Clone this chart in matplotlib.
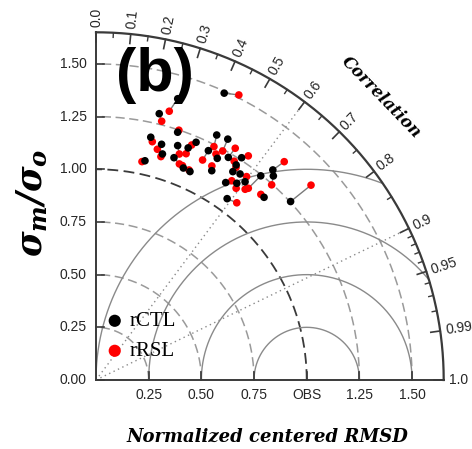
import numpy as np
import matplotlib
matplotlib.use('Agg')
import matplotlib.pyplot as plt

plt.rcParams['font.family'] = 'Liberation Sans'
plt.rcParams['mathtext.fontset'] = 'custom'
plt.rcParams['mathtext.rm'] = 'DejaVu Serif:bold:italic'
plt.rcParams['mathtext.it'] = 'DejaVu Serif:bold:italic'

RMAX = 1.65

# normalized standard deviation and correlation, one entry per model
ctl_std = [1.491, 1.390, 1.299, 1.238, 1.181, 1.161, 1.118, 1.066, 1.178, 1.118, 1.224,
           1.088, 1.185, 1.296, 1.303, 1.212, 1.199, 1.135, 1.229, 1.261, 1.218, 1.183,
           1.121, 1.148, 1.177, 1.193, 1.245, 1.303, 1.283, 1.253, 1.062, 1.178, 1.085]
ctl_cor = [0.408, 0.279, 0.231, 0.313, 0.220, 0.268, 0.282, 0.218, 0.329, 0.331, 0.388,
           0.381, 0.369, 0.442, 0.480, 0.440, 0.480, 0.484, 0.511, 0.548, 0.546, 0.549,
           0.549, 0.582, 0.601, 0.573, 0.628, 0.644, 0.656, 0.737, 0.586, 0.677, 0.411]
rsl_std = [1.513, 1.322, 1.267, 1.249, 1.162, 1.133, 1.104, 1.059, 1.143, 1.099, 1.204,
           1.090, 1.156, 1.241, 1.242, 1.160, 1.214, 1.155, 1.283, 1.286, 1.228, 1.208,
           1.144, 1.127, 1.149, 1.201, 1.162, 1.368, 1.246, 1.377, 1.074, 1.178, 1.097]
rsl_cor = [0.448, 0.263, 0.246, 0.315, 0.230, 0.257, 0.279, 0.206, 0.346, 0.360, 0.377,
           0.405, 0.370, 0.451, 0.484, 0.436, 0.469, 0.476, 0.515, 0.562, 0.534, 0.550,
           0.563, 0.590, 0.616, 0.595, 0.622, 0.653, 0.669, 0.741, 0.622, 0.664, 0.374]

std_ticks = [0.25, 0.50, 0.75, 1.00, 1.25, 1.50]
x_labels = ['0.25', '0.50', '0.75', 'OBS', '1.25', '1.50']
y_ticks = [0.0, 0.25, 0.50, 0.75, 1.00, 1.25, 1.50]
y_labels = ['0.00', '0.25', '0.50', '0.75', '1.00', '1.25', '1.50']
cor_major = [0.0, 0.1, 0.2, 0.3, 0.4, 0.5, 0.6, 0.7, 0.8, 0.9, 0.95, 0.99, 1.0]
cor_labels = ['0.0', '0.1', '0.2', '0.3', '0.4', '0.5', '0.6', '0.7', '0.8', '0.9',
              '0.95', '0.99', '1.0']
cor_minor = [0.05, 0.15, 0.25, 0.35, 0.45, 0.55, 0.65, 0.75, 0.85,
             0.91, 0.92, 0.93, 0.94, 0.96, 0.97, 0.98]
rms_levels = [0.25, 0.50, 0.75, 1.00]
cor_lines = [0.6, 0.9]


def to_xy(std, cor):
    th = np.arccos(np.asarray(cor))
    std = np.asarray(std)
    return std * np.cos(th), std * np.sin(th)


fig = plt.figure(figsize=(4.72, 4.49), dpi=100)
ax = fig.add_axes([96 / 472, 69 / 449, 347.7 / 472, 347.7 / 449])
ax.set_xlim(0, RMAX)
ax.set_ylim(0, RMAX)
ax.axis('off')

axis_col = '#3a3a3a'
grid_col = '#8a8a8a'
txt_col = '#262626'
theta = np.linspace(0, np.pi / 2, 300)

# std dev arcs around the origin
for s in std_ticks:
    if s == 1.0:
        ax.plot(s * np.cos(theta), s * np.sin(theta), color='#3a3a3a', lw=1.3,
                ls=(0, (6, 3)), zorder=1)
    else:
        ax.plot(s * np.cos(theta), s * np.sin(theta), color='#9a9a9a', lw=1.1,
                ls=(0, (6, 3)), zorder=1)

# centered RMSD circles around OBS
phi = np.linspace(0, np.pi, 400)
for r in rms_levels:
    x = 1.0 + r * np.cos(phi)
    y = r * np.sin(phi)
    keep = (x ** 2 + y ** 2 <= RMAX ** 2) & (x >= 0)
    ax.plot(np.where(keep, x, np.nan), np.where(keep, y, np.nan), color=grid_col,
            lw=1.0, zorder=1)

# correlation reference lines
for c in cor_lines:
    th = np.arccos(c)
    ax.plot([0, RMAX * np.cos(th)], [0, RMAX * np.sin(th)], color=grid_col,
            lw=1.0, ls=(0, (1, 2.5)), zorder=1)

# frame: axes and outer arc
ax.plot([0, 0], [0, RMAX], color=axis_col, lw=1.4, clip_on=False, zorder=3)
ax.plot([0, RMAX], [0, 0], color=axis_col, lw=1.4, clip_on=False, zorder=3)
ax.plot(RMAX * np.cos(theta), RMAX * np.sin(theta), color=axis_col, lw=1.6,
        clip_on=False, zorder=3)

for c, lbl in zip(cor_major, cor_labels):
    th = np.arccos(c)
    ax.plot([(RMAX - 0.045) * np.cos(th), RMAX * np.cos(th)],
            [(RMAX - 0.045) * np.sin(th), RMAX * np.sin(th)],
            color=axis_col, lw=1.2, clip_on=False, zorder=3)
    ax.text((RMAX + 0.025) * np.cos(th), (RMAX + 0.025) * np.sin(th), lbl,
            rotation=np.degrees(th), rotation_mode='anchor', ha='left', va='center',
            fontsize=10, color=txt_col, clip_on=False)
for c in cor_minor:
    th = np.arccos(c)
    ax.plot([(RMAX - 0.022) * np.cos(th), RMAX * np.cos(th)],
            [(RMAX - 0.022) * np.sin(th), RMAX * np.sin(th)],
            color=axis_col, lw=1.0, clip_on=False, zorder=3)

for t, lbl in zip(y_ticks, y_labels):
    ax.plot([0, 0.04], [t, t], color=axis_col, lw=1.2, clip_on=False, zorder=3)
    ax.text(-0.043, t, lbl, ha='right', va='center', fontsize=10, color=txt_col)
for t, lbl in zip(std_ticks, x_labels):
    ax.plot([t, t], [0, 0.04], color=axis_col, lw=1.2, clip_on=False, zorder=3)
    ax.text(t, -0.07, lbl, ha='center', va='center', fontsize=10, color=txt_col)

# paired model points
cx, cy = to_xy(ctl_std, ctl_cor)
rx, ry = to_xy(rsl_std, rsl_cor)
for i in range(len(cx)):
    ax.plot([cx[i], rx[i]], [cy[i], ry[i]], color='#7a7a7a', lw=1.0, zorder=4)
ax.scatter(rx, ry, s=30, color='#ff0000', edgecolors='none', zorder=5, label='rRSL')
ax.scatter(cx, cy, s=30, color='black', edgecolors='none', zorder=6, label='rCTL')

h, l = ax.get_legend_handles_labels()
ax.legend(h[::-1], l[::-1], loc='lower left', bbox_to_anchor=(-0.03, 0.0),
          frameon=False, markerscale=1.6, handlelength=1.0, handletextpad=0.2,
          labelspacing=0.5, prop={'family': 'Liberation Serif', 'size': 15})

fig.text(155 / 472, 1 - 76 / 449, '(b)', ha='center', va='center', fontsize=44,
         fontweight='bold', family='Liberation Sans')
fig.text(381 / 472, 1 - 97 / 449, 'Correlation', ha='center', va='center', rotation=-46,
         fontsize=12, family='DejaVu Serif', fontweight='bold', style='italic')
fig.text(267 / 472, 1 - 437 / 449, 'Normalized centered RMSD', ha='center', va='center',
         fontsize=13, family='DejaVu Serif', fontweight='bold', style='italic')
fig.text(33 / 472, 1 - 203 / 449, r'$\sigma_m/\sigma_o$', ha='center', va='center',
         rotation=90, fontsize=25)

fig.savefig('out.png', dpi=100)
